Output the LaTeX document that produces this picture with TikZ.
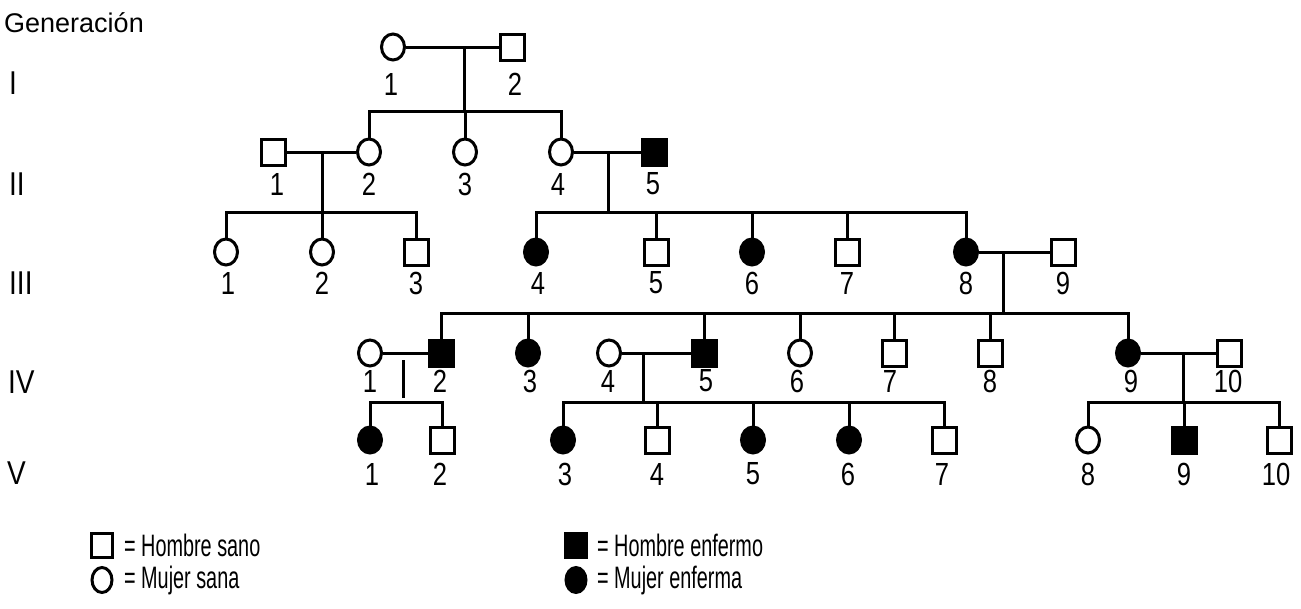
\documentclass[tikz,border=0pt]{standalone}
\usepackage{fontspec}
\setmainfont{Liberation Sans}
\usetikzlibrary{shapes.geometric}
\tikzset{
  ln/.style={line width=3pt},
  man/.style={draw, line width=3pt, rectangle, minimum width=24pt, minimum height=26pt, inner sep=0pt, fill=white},
  mana/.style={man, fill=black},
  wom/.style={draw, line width=3pt, ellipse, minimum width=23pt, minimum height=26pt, inner sep=0pt, fill=white},
  woma/.style={wom, fill=black},
  keyman/.style={man, minimum width=21pt, minimum height=24pt},
  keymana/.style={keyman, fill=black},
  keywom/.style={wom, minimum width=20pt, minimum height=25pt},
  keywoma/.style={keywom, fill=black},
  num/.style={font=\fontsize{32}{32}\selectfont, inner sep=0pt, xscale=0.8},
  gen/.style={font=\fontsize{33}{33}\selectfont, inner sep=0pt, xscale=0.85, anchor=west},
  leg/.style={font=\fontsize{31}{31}\selectfont, inner sep=0pt, anchor=west, xscale=0.64},
}
\begin{document}
\begin{tikzpicture}[x=1pt,y=-1pt]
\useasboundingbox (0,0) rectangle (1301,608);

% generation headings
\node[anchor=west, inner sep=0pt, font=\fontsize{27}{27}\selectfont] (hd) at (4,23) {Generación};
\node[gen] (gI)   at (9,83)  {I};
\node[gen] (gII)  at (9,184) {II};
\node[gen] (gIII) at (9,283) {III};
\node[gen] (gIV)  at (8,382) {IV};
\node[gen] (gV)   at (7,473) {V};

% generation I
\node[wom] (I1) at (393,47) {};
\node[man] (I2) at (512,47) {};
\node[num] (lI1) at (391,84) {1};
\node[num] (lI2) at (515,84) {2};

% generation II
\node[man]  (II1) at (273,152) {};
\node[wom]  (II2) at (369,152) {};
\node[wom]  (II3) at (465,152) {};
\node[wom]  (II4) at (561,152) {};
\node[mana] (II5) at (654,152) {};
\node[num] at (277,184) {1};
\node[num] at (369,184) {2};
\node[num] at (465,184) {3};
\node[num] at (558,184) {4};
\node[num] at (653,184) {5};

% generation III
\node[wom]  (III1) at (226,252) {};
\node[wom]  (III2) at (322,252) {};
\node[man]  (III3) at (416,252) {};
\node[woma] (III4) at (536,252) {};
\node[man]  (III5) at (656,252) {};
\node[woma] (III6) at (752,252) {};
\node[man]  (III7) at (847,252) {};
\node[woma] (III8) at (966,252) {};
\node[man]  (III9) at (1063,252) {};
\foreach \x/\t in {228/1,322/2,416/3,538/4,656/5,752/6,847/7,966/8,1063/9}
  \node[num] at (\x,283) {\t};

% generation IV
\node[wom]  (IV1)  at (370,353) {};
\node[mana] (IV2)  at (441,353) {};
\node[woma] (IV3)  at (528,353) {};
\node[wom]  (IV4)  at (609,353) {};
\node[mana] (IV5)  at (704,353) {};
\node[wom]  (IV6)  at (800,353) {};
\node[man]  (IV7)  at (894,353) {};
\node[man]  (IV8)  at (990,353) {};
\node[woma] (IV9)  at (1128,353) {};
\node[man]  (IV10) at (1229,353) {};
\foreach \x/\t in {370/1,440/2,530/3,608/4,706/5,797/6,890/7,990/8,1131/9,1228/10}
  \node[num] at (\x,381) {\t};

% generation V
\node[woma] (V1)  at (370,440) {};
\node[man]  (V2)  at (442,440) {};
\node[woma] (V3)  at (563,440) {};
\node[man]  (V4)  at (657,440) {};
\node[woma] (V5)  at (753,440) {};
\node[woma] (V6)  at (849,440) {};
\node[man]  (V7)  at (944,440) {};
\node[wom]  (V8)  at (1088,440) {};
\node[mana] (V9)  at (1184,440) {};
\node[man]  (V10) at (1279,440) {};
\foreach \x/\t in {372/1,440/2,565/3,657/4,753/5,848/6,942/7,1088/8,1184/9,1276/10}
  \node[num] at (\x,474) {\t};

% couples, descent lines and sibships
\draw[ln] (I1) -- (I2);
\coordinate (dI) at (464,47);
\coordinate (sI) at (464,111);
\draw[ln] (dI) -- (sI);
\draw[ln] (II2) |- (sI) -| (II4);
\draw[ln] (sI -| II3) -- (II3);

\draw[ln] (II1) -- (II2);
\coordinate (dA) at (322,152);
\coordinate (sA) at (322,212);
\draw[ln] (dA) -- (sA);
\draw[ln] (III1) |- (sA) -| (III3);
\draw[ln] (sA -| III2) -- (III2);

\draw[ln] (II4) -- (II5);
\coordinate (dB) at (608,152);
\coordinate (sB) at (608,212);
\draw[ln] (dB) -- (sB);
\draw[ln] (III4) |- (sB) -| (III8);
\foreach \c in {III5,III6,III7} \draw[ln] (sB -| \c) -- (\c);

\draw[ln] (III8) -- (III9);
\coordinate (dC) at (1003,252);
\coordinate (sC) at (1003,313);
\draw[ln] (dC) -- (sC);
\draw[ln] (IV2) |- (sC) -| (IV9);
\foreach \c in {IV3,IV5,IV6,IV7,IV8} \draw[ln] (sC -| \c) -- (\c);

\draw[ln] (IV1) -- (IV2);
\coordinate (kA) at (403,360);
\coordinate (kB) at (403,398);
\draw[ln] (kA) -- (kB);
\coordinate (sD) at (403,402);
\draw[ln] (V1) |- (sD) -| (V2);

\draw[ln] (IV4) -- (IV5);
\coordinate (dE) at (643,353);
\coordinate (sE) at (643,402);
\draw[ln] (dE) -- (sE);
\draw[ln] (V3) |- (sE) -| (V7);
\foreach \c in {V4,V5,V6} \draw[ln] (sE -| \c) -- (\c);

\draw[ln] (IV9) -- (IV10);
\coordinate (dF) at (1183,353);
\coordinate (sF) at (1183,402);
\draw[ln] (dF) -- (sF);
\draw[ln] (V8) |- (sF) -| (V10);
\draw[ln] (sF -| V9) -- (V9);

% key
\node[keyman]  (kh)  at (102,545) {};
\node[leg]     (khl) at (124,545) {= Hombre sano};
\node[keywom]  (km)  at (102,580) {};
\node[leg]     (kml) at (124,580) {= Mujer sana};
\node[keymana] (kha) at (576,545) {};
\node[leg]     (kal) at (597,545) {= Hombre enfermo};
\node[keywoma] (kma) at (576,580) {};
\node[leg]     (kbl) at (597,580) {= Mujer enferma};
\end{tikzpicture}
\end{document}
